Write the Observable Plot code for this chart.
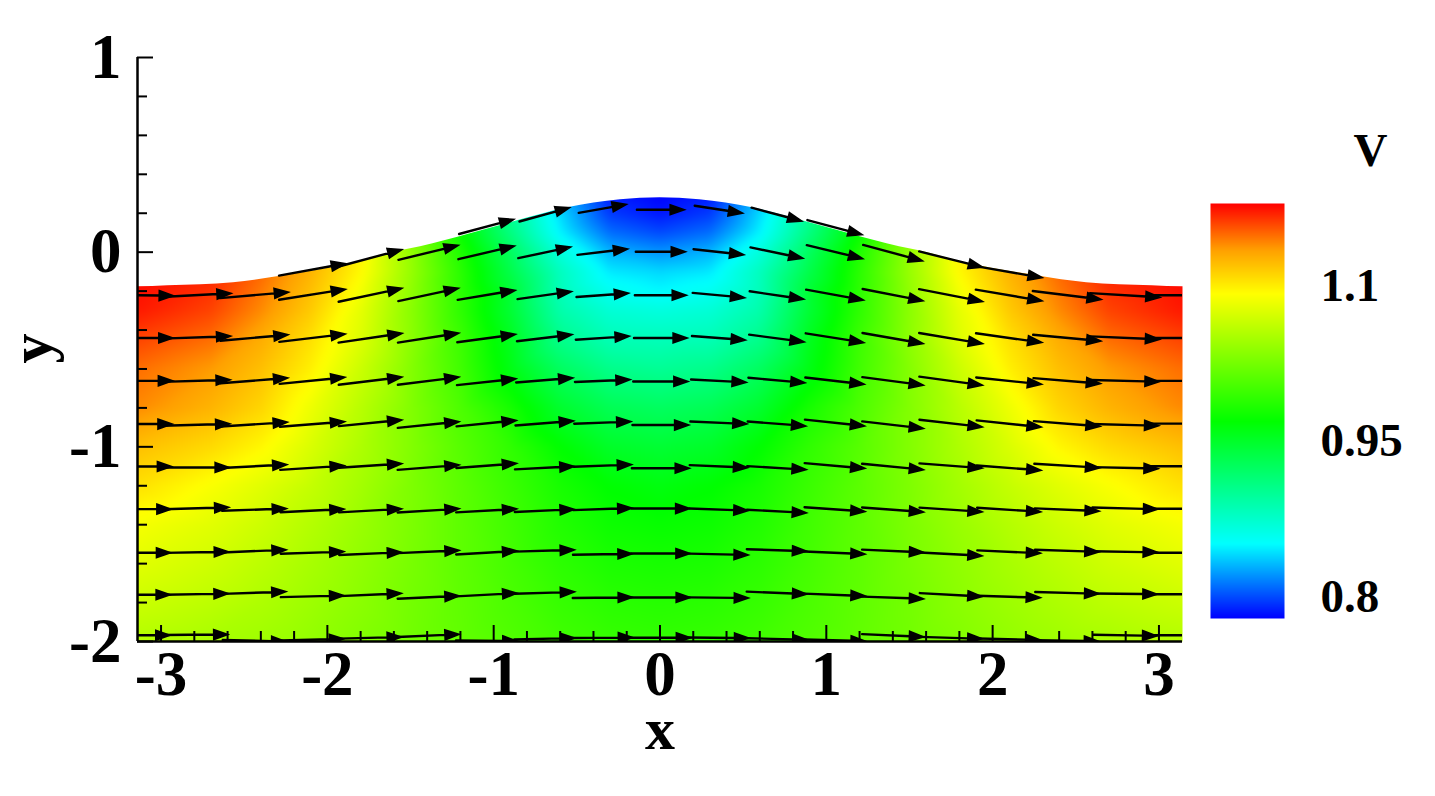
<!DOCTYPE html>
<html><head><meta charset="utf-8">
<script src="https://cdn.jsdelivr.net/npm/d3@7"></script>
<script src="https://cdn.jsdelivr.net/npm/@observablehq/plot@0.6"></script>
<style>
html,body{margin:0;padding:0;background:#fff;overflow:hidden}
#chart{position:relative;width:1435px;height:796px}
#chart svg{position:absolute;left:0;top:0}
</style></head><body><div id="chart"></div>
<script>
// ---- Color field V ----
const fieldX = [-3.14,-2.7,-2.4,-2.1,-1.8,-1.5,-1.2,-.9,-.6,-.3,0,.3,.6,.9,1.2,1.5,1.8,2.1,2.4,2.7,3.14];
const fieldY = [.3,.2,.1,0,-.1,-.2,-.3,-.45,-.6,-.8,-1,-1.2,-1.4,-1.6,-1.8,-2];
const vP30 = [1.179,1.17,1.15,1.125,1.09,1.03,.972,.89,.83,.785,.779,.785,.83,.89,.972,1.03,1.09,1.125,1.15,1.17,1.179];
const vP20 = [1.179,1.17,1.15,1.125,1.09,1.03,.972,.90,.84,.795,.785,.795,.84,.90,.972,1.03,1.09,1.125,1.15,1.17,1.179];
const vP10 = [1.179,1.17,1.15,1.125,1.095,1.03,.972,.91,.848,.81,.80,.81,.848,.91,.972,1.03,1.095,1.125,1.15,1.17,1.179];
const v000 = [1.179,1.17,1.15,1.125,1.098,1.041,.984,.926,.867,.83,.821,.83,.867,.926,.984,1.041,1.098,1.125,1.15,1.17,1.179];
const vM10 = [1.179,1.17,1.15,1.125,1.094,1.042,.989,.935,.881,.845,.84,.845,.881,.935,.989,1.042,1.094,1.125,1.15,1.17,1.179];
const vM20 = [1.175,1.165,1.145,1.12,1.087,1.039,.99,.945,.883,.857,.85,.857,.883,.945,.99,1.039,1.087,1.12,1.145,1.165,1.175];
const vM30 = [1.172,1.16,1.14,1.115,1.08,1.036,.991,.945,.89,.87,.866,.87,.89,.945,.991,1.036,1.08,1.115,1.14,1.16,1.172];
const vM45 = [1.16,1.148,1.128,1.105,1.076,1.037,.998,.955,.905,.885,.883,.885,.905,.955,.998,1.037,1.076,1.105,1.128,1.148,1.16];
const vM60 = [1.148,1.135,1.12,1.098,1.067,1.033,1.0,.96,.925,.905,.90,.905,.925,.96,1.0,1.033,1.067,1.098,1.12,1.135,1.148];
const vM80 = [1.14,1.125,1.11,1.084,1.058,1.032,1.006,.98,.948,.93,.925,.93,.948,.98,1.006,1.032,1.058,1.084,1.11,1.125,1.14];
const vM100 = [1.12,1.108,1.095,1.074,1.053,1.032,1.011,.992,.969,.95,.945,.95,.969,.992,1.011,1.032,1.053,1.074,1.095,1.108,1.12];
const vM120 = [1.105,1.09,1.078,1.064,1.048,1.03,1.013,.997,.98,.968,.962,.968,.98,.997,1.013,1.03,1.048,1.064,1.078,1.09,1.105];
const vM140 = [1.088,1.078,1.068,1.056,1.043,1.029,1.014,1.0,.985,.975,.972,.975,.985,1.0,1.014,1.029,1.043,1.056,1.068,1.078,1.088];
const vM160 = [1.078,1.069,1.06,1.05,1.039,1.027,1.014,1.002,.99,.982,.98,.982,.99,1.002,1.014,1.027,1.039,1.05,1.06,1.069,1.078];
const vM180 = [1.067,1.06,1.053,1.045,1.036,1.025,1.015,1.005,.995,.989,.987,.989,.995,1.005,1.015,1.025,1.036,1.045,1.053,1.06,1.067];
const vM200 = [1.055,1.05,1.046,1.04,1.032,1.024,1.016,1.008,1.0,.995,.993,.995,1.0,1.008,1.016,1.024,1.032,1.04,1.046,1.05,1.055];
const fieldRows = [vP30,vP20,vP10,v000,vM10,vM20,vM30,vM45,vM60,vM80,vM100,vM120,vM140,vM160,vM180,vM200];

// ---- Upper wall of the channel ----
const wallX = [-3.17,-3.1416,-2.96,-2.565,-2.264,-1.861,-1.56,-1.44,-1.14,-.857,-.556,-.238,0,.238,.556,.857,1.14,1.44,1.56,1.861,2.264,2.565,2.96,3.1416,3.17];
const wallY = [-.178,-.178,-.173,-.157,-.121,-.06,.007,.028,.095,.161,.228,.269,.279,.269,.228,.161,.095,.028,.007,-.06,-.121,-.157,-.173,-.178,-.178];

// ---- Vector nodes: x per node, then y centre and direction (degrees, + = up) per row ----
const nodeX = [-3.1416,-2.7925,-2.4435,-2.0944,-1.7453,-1.3963,-1.0472,-.6981,-.3491,0,.3491,.6981,1.0472,1.3963,1.7453,2.0944,2.4435,2.7925,3.1416];
const yWall = [null,null,null,-.090,-.031,null,.130,.192,.223,.218,.220,.195,.128,null,-.036,-.101,null,null,null];
const aWall = [null,null,null,10.2,15,null,15,15.4,10,0,-8.8,-14.9,-15,null,-14,-9.8,null,null,null];
const yR1 = [null,null,null,null,null,-.003,-.003,-.003,.001,.002,.001,-.003,.002,-.003,null,null,null,null,null];
const aR1 = [null,null,null,null,null,13.6,13.2,11.9,6.7,0,-6.3,-11.8,-13.5,-15,null,null,null,null,null];
const yR2 = [-.221,-.221,-.221,-.218,-.221,-.219,-.221,-.222,-.221,-.221,-.221,-.221,-.219,-.219,-.221,-.221,-.221,-.221,-.221];
const aR2 = [-1,3,5,9,12,12,9.5,8,4.2,0,-5.3,-8.4,-10.4,-11,-11,-9.6,-7,-3.4,0];
const yR3 = [-.441,-.438,-.440,-.441,-.441,-.441,-.443,-.441,-.441,-.441,-.441,-.442,-.440,-.442,-.442,-.440,-.440,-.440,-.441];
const aR3 = [0,2,5,6.8,8.3,8.8,7.8,6.8,3.7,0,-4.4,-7.5,-9,-10,-9.6,-8,-5.2,-2.5,0];
const yR4 = [-.661,-.661,-.660,-.660,-.662,-.662,-.667,-.658,-.661,-.664,-.661,-.658,-.661,-.662,-.661,-.661,-.661,-.661,-.661];
const aR4 = [0,1.7,4.5,5.7,6.9,7.1,6.1,4.5,2.5,0,-2.9,-5.2,-6.5,-7.5,-7.8,-6,-4.7,-1.4,0];
const yR5 = [-.883,-.887,-.885,-.884,-.878,-.887,-.880,-.879,-.876,-.888,-.876,-.881,-.876,-.887,-.879,-.881,-.881,-.887,-.881];
const aR5 = [0,1.6,3.7,4.6,5.6,5.8,5.7,4.4,2.1,0,-2.4,-4.4,-6,-6.5,-6.6,-6,-4.5,-1.5,0];
const yR6 = [-1.101,-1.106,-1.100,-1.108,-1.097,-1.106,-1.097,-1.108,-1.097,-1.110,-1.100,-1.108,-1.097,-1.102,-1.097,-1.108,-1.097,-1.108,-1.100];
const aR6 = [0,0,3,3.7,3.8,4.5,4.3,3,2,0,-2.4,-3.4,-5,-5.5,-4.4,-4.3,-3.5,-1.3,0];
const yR7 = [-1.320,-1.316,-1.323,-1.328,-1.328,-1.328,-1.328,-1.328,-1.320,-1.317,-1.322,-1.331,-1.321,-1.323,-1.323,-1.323,-1.323,-1.316,-1.318];
const aR7 = [0,1.7,2,2.8,3.2,3.5,3.3,2.7,2,0,-2,-3,-4,-4.2,-3.8,-3.7,-2.5,-1.5,0];
const yR8 = [-1.544,-1.542,-1.536,-1.544,-1.549,-1.539,-1.544,-1.534,-1.552,-1.548,-1.552,-1.531,-1.544,-1.535,-1.551,-1.539,-1.534,-1.539,-1.544];
const aR8 = [0,1,2.5,2,2.5,2.5,3.3,1.6,1,0,-1.3,-2,-2.5,-2.6,-3,-2.6,-1.9,-1,0];
const yR9 = [-1.760,-1.757,-1.750,-1.768,-1.760,-1.773,-1.760,-1.750,-1.775,-1.774,-1.775,-1.750,-1.760,-1.775,-1.760,-1.770,-1.750,-1.755,-1.757];
const aR9 = [0,1,2,1.5,2.6,2.6,3,1.7,.7,0,-.7,-2.3,-2.3,-2,-3.2,-1.7,-1.6,-.6,0];
const yR10 = [-1.968,-1.965,-1.996,-1.991,-1.981,-1.970,-1.996,-1.986,-1.981,-1.981,-1.981,-1.987,-1.994,-1.969,-1.981,-1.988,-1.996,-1.968,-1.968];
const aR10 = [0,.5,-1.5,1.5,1.5,2.5,-.5,1.5,.5,0,-.5,-1.5,-1.5,-2.5,-1.7,-1.3,-1,-1,0];
const arrowRows = [[yWall,aWall],[yR1,aR1],[yR2,aR2],[yR3,aR3],[yR4,aR4],[yR5,aR5],[yR6,aR6],[yR7,aR7],[yR8,aR8],[yR9,aR9],[yR10,aR10]];

// ---- Ticks and colours ----
const xMajor = [-3,-2,-1,0,1,2,3];
const xMinor = d3.range(-15,16).map(i=>i/5).filter(d=>!Number.isInteger(d));
const yMajor = [-2,-1,0,1];
const yMinor = d3.range(-10,6).map(i=>i/5).filter(d=>!Number.isInteger(d));
const barTicks = [0.8,0.95,1.1];
const colorStops = [0.779,0.851,0.969,1.092,1.134,1.179];
const colorHues = ["#0000ff","#00ffff","#00ff00","#ffff00","#ffa000","#ff0000"];
const pxPerSpeed = 59;

const SERIF = "'Liberation Serif','Times New Roman',serif";
const colorScale = {type:"linear",domain:colorStops,range:colorHues,clamp:true};
const field = fieldRows.flatMap((row,j)=>row.map((v,i)=>({x:fieldX[i],y:fieldY[j],v})));

// V at a position, from the table above, sets arrow length
function speedAt(x,y){
  const i = Math.max(0,Math.min(fieldX.length-2,d3.bisectRight(fieldX,x)-1));
  let j = 0; while(j<fieldY.length-2 && fieldY[j+1]>y) j++;
  const t = (x-fieldX[i])/(fieldX[i+1]-fieldX[i]), u = (fieldY[j]-y)/(fieldY[j]-fieldY[j+1]);
  const r = fieldRows;
  return (1-u)*((1-t)*r[j][i]+t*r[j][i+1]) + u*((1-t)*r[j+1][i]+t*r[j+1][i+1]);
}
const arrows = arrowRows.flatMap(([ys,as])=>ys.map((y,i)=>y==null?null:{x:nodeX[i],y,angle:as[i],len:pxPerSpeed*speedAt(nodeX[i],y)}).filter(Boolean));
const arrowShape = {draw(c,l){
  const hl=12.5,hw=4.4;
  c.moveTo(0,0); c.lineTo(0,-(l-hl));
  c.moveTo(-hw,-(l-hl)); c.lineTo(0,-l); c.lineTo(hw,-(l-hl)); c.closePath();
}};

const main = Plot.plot({
  width:1435,height:796,marginLeft:137,marginRight:253,marginTop:57,marginBottom:155,
  style:{fontFamily:SERIF,background:"transparent",color:"#000"},
  x:{domain:[-Math.PI,Math.PI],axis:null},
  y:{domain:[-2,1],axis:null},
  color:colorScale,
  length:{type:"identity"},
  marks:[
    Plot.raster(field,{x:"x",y:"y",fill:"v",interpolate:"barycentric",x1:-Math.PI,x2:Math.PI,y1:-2,y2:.3,pixelSize:1,blur:3}),
    Plot.areaY(wallX.map((x,i)=>({x,y:wallY[i]})),{x:"x",y1:"y",y2:.31,fill:"white",curve:"monotone-x"}),
    Plot.vector(arrows,{x:"x",y:"y",rotate:d=>90-d.angle,length:"len",anchor:"middle",shape:arrowShape,
      stroke:"black",fill:"black",strokeWidth:2.4,strokeLinejoin:"miter",clip:true}),
    Plot.ruleX([-Math.PI],{stroke:"black",strokeWidth:2.5}),
    Plot.ruleY([-2],{stroke:"black",strokeWidth:2.5}),
    Plot.axisX(xMinor,{anchor:"bottom",tickSize:-10,strokeWidth:2,text:null,label:null}),
    Plot.axisX(xMajor,{anchor:"bottom",tickSize:-16,strokeWidth:2,text:null,label:null}),
    Plot.axisX(xMajor,{anchor:"bottom",tickSize:0,tickPadding:9,fontSize:63,fontWeight:"bold",tickFormat:String,label:null}),
    Plot.axisY(yMinor,{anchor:"left",tickSize:-10,strokeWidth:2,text:null,label:null}),
    Plot.axisY(yMajor,{anchor:"left",tickSize:-16,strokeWidth:2,text:null,label:null}),
    Plot.axisY(yMajor,{anchor:"left",tickSize:0,tickPadding:16,fontSize:63,fontWeight:"bold",tickFormat:String,label:null}),
    Plot.text(["x"],{frameAnchor:"bottom",dy:107,lineAnchor:"bottom",fontSize:60,fontWeight:"bold"}),
    Plot.text(["y"],{frameAnchor:"left",dx:-87,dy:14,rotate:-90,lineAnchor:"bottom",fontSize:60,fontWeight:"bold"})
  ]
});

const vBottom = colorStops[0], vTop = colorStops[colorStops.length-1];
const bar = Plot.plot({
  width:1435,height:796,marginLeft:1210,marginRight:151,marginTop:203,marginBottom:178,
  style:{fontFamily:SERIF,background:"transparent",color:"#000"},
  x:{domain:[0,1],axis:null},
  y:{domain:[vBottom,vTop],axis:null},
  color:colorScale,
  marks:[
    Plot.raster({fill:(x,y)=>y,x1:0,x2:1,y1:vBottom,y2:vTop,pixelSize:1}),
    Plot.axisY(barTicks,{anchor:"right",tickSize:0,tickPadding:36,fontSize:47,fontWeight:"bold",tickFormat:String,label:null}),
    Plot.text(["V"],{frameAnchor:"top",dx:123,dy:-38,lineAnchor:"bottom",fontSize:47,fontWeight:"bold"})
  ]
});
document.getElementById("chart").append(main,bar);
</script></body></html>
